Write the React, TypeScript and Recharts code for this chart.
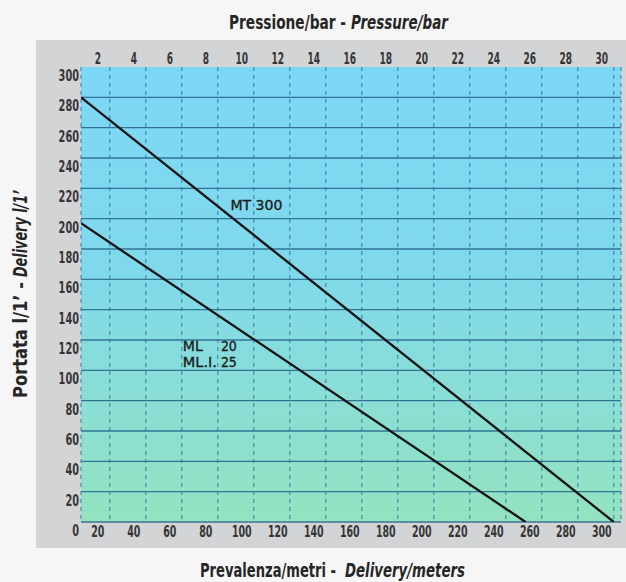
import React from "react";
import {
  LineChart,
  Line,
  XAxis,
  YAxis,
  CartesianGrid,
  ReferenceDot,
} from "recharts";

// ---- data ----
const meterTicks = [20, 40, 60, 80, 100, 120, 140, 160, 180, 200, 220, 240, 260, 280, 300];
const barTicks = [2, 4, 6, 8, 10, 12, 14, 16, 18, 20, 22, 24, 26, 28, 30];
const flowTicks = [0, 20, 40, 60, 80, 100, 120, 140, 160, 180, 200, 220, 240, 260, 280, 300];
const flowGrid = [0, 20, 40, 60, 80, 100, 120, 140, 160, 180, 200, 220, 240, 260, 280];

const mt300 = [
  { m: 4, q: 280 },
  { m: 300, q: 0 },
];
const ml20 = [
  { m: 4, q: 197 },
  { m: 251, q: 0 },
];

const seriesLabels = [
  { m: 87, q: 206, name: "MT", code: "300", gap: 0, nameLen: 52, codeLen: 0 },
  { m: 60.6, q: 113, name: "ML", code: "20", gap: 38, nameLen: 20, codeLen: 16 },
  { m: 60.6, q: 102, name: "ML.I.", code: "25", gap: 38, nameLen: 34, codeLen: 16 },
];

const METER_DOMAIN: [number, number] = [4, 304];
const BAR_DOMAIN: [number, number] = [0.4, 30.4];

const NARROW = "'Liberation Sans Narrow','DejaVu Sans Condensed','DejaVu Sans',sans-serif";
const LABEL_FONT = "'DejaVu Sans','Noto Sans',sans-serif";

const tickStyle = {
  fontFamily: NARROW,
  fontWeight: 700,
  fontSize: 16,
  fill: "#353535",
};

const BottomTick = (p: any) => {
  const s = String(p.payload.value);
  return (
    <text
      x={p.x - 12}
      y={p.y + 15}
      textAnchor="middle"
      textLength={s.length * 6.6}
      lengthAdjust="spacingAndGlyphs"
      style={tickStyle}
    >
      {s}
    </text>
  );
};

const TopTick = (p: any) => {
  const s = String(p.payload.value);
  return (
    <text
      x={p.x - 12}
      y={p.y - 3}
      textAnchor="middle"
      textLength={s.length * 6.3}
      lengthAdjust="spacingAndGlyphs"
      style={tickStyle}
    >
      {s}
    </text>
  );
};

const LeftTick = (p: any) => {
  const s = String(p.payload.value);
  return (
    <text
      x={p.x - 2}
      y={p.y + 14}
      textAnchor="end"
      textLength={s.length * 6.8}
      lengthAdjust="spacingAndGlyphs"
      style={tickStyle}
    >
      {s}
    </text>
  );
};

const makeSeriesLabel =
  (lab: { name: string; code: string; gap: number; nameLen: number; codeLen: number }) =>
  (props: any) => {
    const vb = props.viewBox || {};
    const x = (vb.x ?? 0) + (vb.width ?? 0) / 2;
    const y = (vb.y ?? 0) + (vb.height ?? 0) / 2;
    const st = {
      fontFamily: LABEL_FONT,
      fontSize: 14,
      fill: "#1c1c1c",
      stroke: "#1c1c1c",
      strokeWidth: 0.35,
    };
    if (lab.gap === 0) {
      return (
        <text x={x} y={y} style={st} textLength={lab.nameLen} lengthAdjust="spacingAndGlyphs">
          {lab.name + " " + lab.code}
        </text>
      );
    }
    return (
      <g>
        <text x={x} y={y} style={st} textLength={lab.nameLen} lengthAdjust="spacingAndGlyphs">
          {lab.name}
        </text>
        <text
          x={x + lab.gap}
          y={y}
          style={st}
          textLength={lab.codeLen}
          lengthAdjust="spacingAndGlyphs"
        >
          {lab.code}
        </text>
      </g>
    );
  };

const titleStyle = {
  fontFamily: NARROW,
  fontWeight: 700,
  fontSize: 17,
  fill: "#262626",
};
const titleItalic = { ...titleStyle, fontStyle: "italic" as const };

const Title = ({
  t,
  len,
  italic,
  x,
  y,
  rot,
}: {
  t: string;
  len: number;
  italic?: boolean;
  x: number;
  y: number;
  rot?: boolean;
}) => (
  <text
    x={0}
    y={0}
    transform={`translate(${x},${y})${rot ? " rotate(-90)" : ""} scale(1,1.18)`}
    textLength={len}
    lengthAdjust="spacingAndGlyphs"
    style={italic ? titleItalic : titleStyle}
  >
    {t}
  </text>
);

export default function App() {
  return (
    <div
      style={{
        position: "absolute",
        left: 0,
        top: 0,
        width: 626,
        height: 582,
        background: "#f6f6f6",
        overflow: "hidden",
      }}
    >
      <div
        style={{
          position: "absolute",
          left: 36,
          top: 40,
          width: 590,
          height: 508,
          background: "#d3d4d6",
        }}
      />
      <div style={{ position: "absolute", left: 0, top: 0 }}>
        <LineChart
          width={626}
          height={582}
          margin={{ top: 47, right: 5, bottom: 40, left: 51 }}
        >
          <defs>
            <linearGradient id="plotBg" x1="0" y1="0" x2="0" y2="1">
              <stop offset="0%" stopColor="#7cd7f6" />
              <stop offset="45%" stopColor="#80d9ea" />
              <stop offset="100%" stopColor="#93e3c0" />
            </linearGradient>
          </defs>
          <XAxis
            xAxisId="bottom"
            type="number"
            dataKey="m"
            domain={METER_DOMAIN}
            allowDataOverflow
            ticks={meterTicks}
            interval={0}
            height={20}
            axisLine={false}
            tickLine={false}
            tickSize={0}
            tickMargin={0}
            tick={BottomTick}
          />
          <XAxis
            xAxisId="top"
            orientation="top"
            type="number"
            dataKey="m"
            domain={BAR_DOMAIN}
            allowDataOverflow
            ticks={barTicks}
            interval={0}
            height={20}
            axisLine={false}
            tickLine={false}
            tickSize={0}
            tickMargin={0}
            tick={TopTick}
          />
          <YAxis
            type="number"
            dataKey="q"
            domain={[0, 300]}
            allowDataOverflow
            ticks={flowTicks}
            interval={0}
            width={30}
            axisLine={false}
            tickLine={false}
            tickSize={0}
            tickMargin={0}
            tick={LeftTick}
          />
          <CartesianGrid
            xAxisId="bottom"
            vertical={false}
            horizontalValues={flowGrid}
            stroke="#23628a"
            strokeOpacity={0.85}
            strokeWidth={1.3}
            fill="url(#plotBg)"
            fillOpacity={1}
          />
          <CartesianGrid
            xAxisId="bottom"
            horizontal={false}
            stroke="#2b6f9c"
            strokeOpacity={0.9}
            strokeWidth={1}
            strokeDasharray="4 4"
          />
          <Line
            xAxisId="bottom"
            data={mt300}
            dataKey="q"
            type="linear"
            stroke="#141414"
            strokeWidth={2.3}
            dot={false}
            activeDot={false}
            isAnimationActive={false}
          />
          <Line
            xAxisId="bottom"
            data={ml20}
            dataKey="q"
            type="linear"
            stroke="#141414"
            strokeWidth={2.3}
            dot={false}
            activeDot={false}
            isAnimationActive={false}
          />
          {seriesLabels.map((lab) => (
            <ReferenceDot
              key={lab.name}
              xAxisId="bottom"
              x={lab.m}
              y={lab.q}
              r={0}
              fill="none"
              stroke="none"
              label={makeSeriesLabel(lab)}
            />
          ))}
        </LineChart>
      </div>
      <svg
        width={626}
        height={582}
        style={{ position: "absolute", left: 0, top: 0, pointerEvents: "none" }}
      >
        <Title t="Pressione/bar -" len={117} x={229} y={29} />
        <Title t="Pressure/bar" len={97} x={351} y={29} italic />
        <Title t="Prevalenza/metri -" len={136} x={200} y={577} />
        <Title t="Delivery/meters" len={120} x={345} y={577} italic />
        <Title t="Portata l/1’ -" len={116} x={27} y={398} rot />
        <Title t="Delivery l/1’" len={87} x={27} y={277} rot italic />
      </svg>
    </div>
  );
}
